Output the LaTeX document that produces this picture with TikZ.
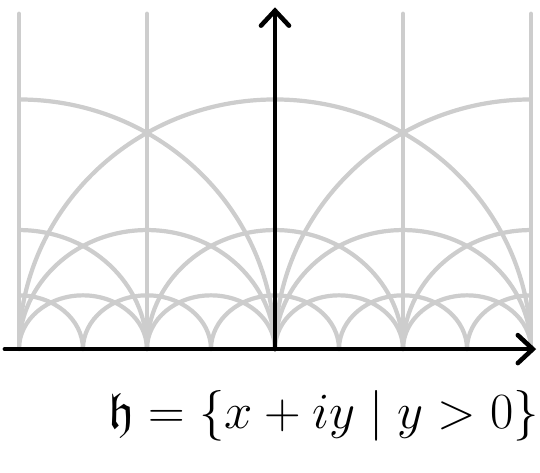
\documentclass[tikz,border=0pt]{standalone}
\usepackage{amsmath,amssymb}
\usepackage{xcolor}
\usetikzlibrary{arrows.meta}
\definecolor{geo}{HTML}{CDCDCD}
\definecolor{ink}{HTML}{000000}

\begin{document}
\begin{tikzpicture}[x=2.56cm,y=2.56cm,
  geod/.style={draw=geo,line width=2.4pt,line cap=round},
  axis/.style={draw=ink,line width=2.6pt,line cap=round,
               -{Straight Barb[length=0.3cm,width=0.56cm,line cap=round]}}]
\useasboundingbox (-2.148,-0.961) rectangle (2.070,2.727);

% vertical geodesics
\foreach \x in {-2,-1,1,2}
  \draw[geod] (\x,0) -- (\x,2.62);

% half circles of radius 2, 1, 1/2, kept inside the strip
\begin{scope}
  \clip (-2,-0.1) rectangle (2,2.7);
  \foreach \r/\yr in {2/1.95,1/0.93,0.5/0.42}{
    \pgfmathtruncatemacro\n{4/\r}
    \foreach \k in {0,...,\n}{
      \pgfmathsetmacro\c{-2+\k*\r}
      \draw[geod] ({\c-\r},0) arc[start angle=180,end angle=0,x radius=\r,y radius=\yr];
    }
  }
\end{scope}

\coordinate (west) at (-2.11,0);
\coordinate (east) at (2.04,0);
\coordinate (orig) at (0,0);
\coordinate (north) at (0,2.67);
\draw[axis] (west) -- (east);
\draw[axis] (orig) -- (north);

\node[font=\Huge,scale=1.16] (hset) at (0.38,-0.52) {$\mathfrak{h} = \{x+iy \mid y>0\}$};
\end{tikzpicture}
\end{document}
